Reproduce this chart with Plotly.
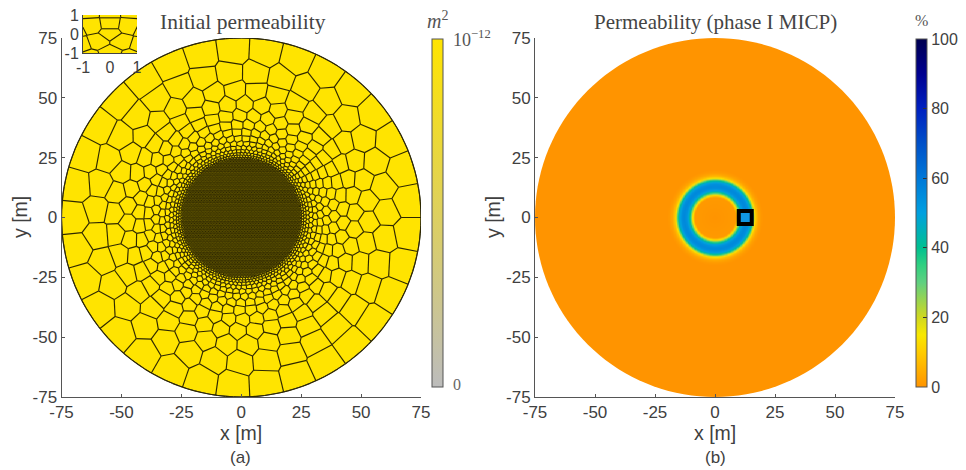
import numpy as np
import plotly.graph_objects as go

# ---------- data ----------
tick_vals = [-75, -50, -25, 0, 25, 50, 75]
tick_text = ["-75", "-50", "-25", "0", "25", "50", "75"]
disk_radius = 75
# Mesh: rings of Voronoi sites outside the fine core (radius, sites on ring)
ring_radii = [25.6, 26.5, 27.6, 29.0, 30.7, 32.8, 35.4, 38.5, 42.3, 47.0, 52.7, 60.0, 69.5]
ring_counts = [140, 118, 98, 84, 72, 64, 57, 51, 46, 42, 38, 35, 33]
ring_phase = [0.0, 0.3, 0.1, 0.5, 0.2, 0.4, 0.7, 0.1, 0.6, 0.3, 0.8, 0.2, 0.5]
core_radius = 25.0
core_spacing = 0.65
# Inset sites (a magnified part of the core)
inset_x = [0, 0, -0.68, 0.67, -0.44, 0.42, 0, -1.1, 1.15, 0, -0.75, 0.75, -0.75, 0.75, -1.3, 1.3]
inset_y = [0.5, 0.05, 0.42, 0.42, -0.38, -0.38, -1.0, -0.55, -0.55, 1.2, 1.25, 1.25, -1.25, -1.25, 0.2, 0.2]
inset_ticks = [-1, 0, 1]
inset_labels = ["-1", "0", "1"]
# Panel (b): radial permeability-change profile (percent)
profile_r = [0, 8.5, 9, 9.5, 10, 10.5, 11, 12, 13, 14, 15, 15.5, 16, 16.5, 17, 18, 19, 20, 30]
profile_v = [0, 1, 8, 16, 28, 38, 47, 54, 56, 54, 47, 38, 25, 14, 8, 3, 1, 0, 0]
well_x = [12.6]
well_y = [0]
cbar_ticks = [0, 20, 40, 60, 80, 100]
cbar_stops = [(0, "#ff9400"), (0.1, "#ffcc00"), (0.15, "#f8e800"), (0.2, "#d0d820"), (0.3, "#60d080"),
              (0.35, "#30d080"), (0.4, "#00c090"), (0.45, "#00b0b8"), (0.5, "#00a0e0"), (0.6, "#0078d8"),
              (0.7, "#0050c8"), (0.8, "#0020c0"), (0.9, "#000090"), (1, "#000050")]
perm_stops = [(0, "#bcbcbc"), (1, "#ffe400")]
YELLOW = "#ffe400"
EDGE = "#2e2800"
ORANGE = "#ff9400"
TXT = "#404040"
AXC = "#555555"
PAGE = 8            # the page's own margin round the figure
W, H = 966 - PAGE, 470 - PAGE


def clip(poly, a, b, c):
    out = []
    n = len(poly)
    for i in range(n):
        p, q = poly[i], poly[(i + 1) % n]
        dp = a * p[0] + b * p[1] - c
        dq = a * q[0] + b * q[1] - c
        if dp <= 0:
            out.append(p)
        if (dp < 0 < dq) or (dq < 0 < dp):
            t = dp / (dp - dq)
            out.append((p[0] + t * (q[0] - p[0]), p[1] + t * (q[1] - p[1])))
    return out


def voronoi_segments(sx, sy, bound):
    sx, sy = np.asarray(sx, float), np.asarray(sy, float)
    seen = set()
    xs, ys = [], []
    for i in range(len(sx)):
        dx, dy = sx - sx[i], sy - sy[i]
        d2 = dx * dx + dy * dy
        order = np.argsort(d2)[1:]
        poly = list(bound)
        for j in order:
            if len(poly) < 3:
                break
            rmax = max((p[0] - sx[i]) ** 2 + (p[1] - sy[i]) ** 2 for p in poly)
            if d2[j] > 4 * rmax:
                break
            a, b = dx[j], dy[j]
            c = (a * (sx[i] + sx[j]) + b * (sy[i] + sy[j])) / 2
            poly = clip(poly, a, b, c)
        for k in range(len(poly)):
            p, q = poly[k], poly[(k + 1) % len(poly)]
            kp = (round(p[0], 3), round(p[1], 3))
            kq = (round(q[0], 3), round(q[1], 3))
            if kp == kq:
                continue
            key = (kp, kq) if kp < kq else (kq, kp)
            if key in seen:
                continue
            seen.add(key)
            xs += [kp[0], kq[0], None]
            ys += [kp[1], kq[1], None]
    return xs, ys


# sites
site_x, site_y = [], []
row = 0
yy = -core_radius
while yy <= core_radius:
    xx = -core_radius + (0.5 * core_spacing if row % 2 else 0)
    while xx <= core_radius:
        if xx * xx + yy * yy <= core_radius ** 2:
            site_x.append(xx)
            site_y.append(yy)
        xx += core_spacing
    yy += core_spacing * 0.866
    row += 1
for r, n, ph in zip(ring_radii, ring_counts, ring_phase):
    for j in range(n):
        t = 2 * np.pi * (j + ph) / n
        site_x.append(r * np.cos(t))
        site_y.append(r * np.sin(t))

ang = np.linspace(0, 2 * np.pi, 145)[:-1]
disk_x = (disk_radius * np.cos(ang)).tolist()
disk_y = (disk_radius * np.sin(ang)).tolist()
mesh_x, mesh_y = voronoi_segments(site_x, site_y, list(zip(disk_x, disk_y)))
box = [(-2, -2), (2, -2), (2, 2), (-2, 2)]
ins_x, ins_y = voronoi_segments(inset_x, inset_y, box)

# panel (b) field
gx = np.arange(-22, 22.01, 0.25)
gr = np.hypot(*np.meshgrid(gx, gx))
gz = np.interp(gr, profile_r, profile_v)


def fx(px):
    return (px - PAGE) / W


def fy(py):
    return 1 - (py - PAGE) / H


X1, X2 = (61.5, 421), (535, 895)
YT, YB = 38, 397
ydom = [fy(YB), fy(YT)]

fig = go.Figure()
# left
fig.add_trace(go.Scatter(x=disk_x + disk_x[:1], y=disk_y + disk_y[:1], fill="toself", fillcolor=YELLOW,
                         mode="lines", line=dict(color="#3a3a3a", width=1), hoverinfo="skip", showlegend=False))
fig.add_trace(go.Scatter(x=mesh_x, y=mesh_y, mode="lines", line=dict(color=EDGE, width=1.15),
                         hoverinfo="skip", showlegend=False))
fig.add_trace(go.Scatter(x=[0, 0], y=[0, 0], mode="markers", hoverinfo="skip", showlegend=False,
                         marker=dict(size=0.1, color=[0, 1], cmin=0, cmax=1, colorscale=perm_stops,
                                     showscale=True,
                                     colorbar=dict(x=fx(432), xanchor="left", y=fy(39), yanchor="top",
                                                   len=348 / H, lenmode="fraction", thickness=11,
                                                   thicknessmode="pixels", xpad=0, ypad=0, outlinecolor="#555555",
                                                   outlinewidth=1, ticks="", tickvals=[], showticklabels=False))))
# inset
fig.add_trace(go.Scatter(x=[-1, 1, 1, -1, -1], y=[-1, -1, 1, 1, -1], fill="toself", fillcolor=YELLOW, mode="none",
                         hoverinfo="skip", showlegend=False, xaxis="x3", yaxis="y3"))
fig.add_trace(go.Scatter(x=ins_x, y=ins_y, mode="lines", line=dict(color=EDGE, width=1.1), hoverinfo="skip",
                         showlegend=False, xaxis="x3", yaxis="y3"))
# right
fig.add_trace(go.Heatmap(x=gx, y=gx, z=gz, zmin=0, zmax=100, zsmooth="best", colorscale=cbar_stops,
                         xaxis="x2", yaxis="y2", hoverinfo="skip",
                         colorbar=dict(x=fx(916), xanchor="left", y=fy(39), yanchor="top", len=348 / H,
                                       lenmode="fraction", thickness=11, thicknessmode="pixels", xpad=0, ypad=0,
                                       outlinecolor="#555555", outlinewidth=1, ticks="inside", ticklen=4,
                                       tickcolor="#333333", tickvals=cbar_ticks, tickfont=dict(
                                           family="Liberation Sans", size=16, color=TXT))))
fig.add_trace(go.Scatter(x=well_x, y=well_y, mode="markers", hoverinfo="skip", showlegend=False, xaxis="x2", yaxis="y2",
                         marker=dict(symbol="square", size=13, color="#1096e4", line=dict(color="#000000", width=4))))

axis = dict(range=[-75, 75], tickvals=tick_vals, ticktext=tick_text, ticks="inside", ticklen=3, tickcolor=AXC,
            showline=True, linecolor=AXC, linewidth=1, showgrid=False, zeroline=False, automargin=False,
            tickfont=dict(family="Liberation Sans", size=17, color=TXT))
inset_axis = dict(range=[-1, 1], tickvals=inset_ticks, ticktext=inset_labels, ticks="", showline=True,
                  linecolor="#444444", linewidth=1, showgrid=False, zeroline=False, automargin=False,
                  ticklabeloverflow="allow",
                  tickfont=dict(family="Liberation Sans", size=16, color=TXT))
disk_path = "M " + " L ".join(f"{x:.3f},{y:.3f}" for x, y in zip(disk_x, disk_y)) + " Z"
fig.update_layout(
    width=W, height=H, margin=dict(l=0, r=0, t=0, b=0, autoexpand=False), paper_bgcolor="white", plot_bgcolor="white",
    showlegend=False, autosize=False,
    xaxis=dict(axis, domain=[fx(X1[0]), fx(X1[1])], anchor="y"),
    yaxis=dict(axis, domain=ydom, anchor="x"),
    xaxis2=dict(axis, domain=[fx(X2[0]), fx(X2[1])], anchor="y2"),
    yaxis2=dict(axis, domain=ydom, anchor="x2"),
    xaxis3=dict(inset_axis, domain=[fx(83), fx(137)], anchor="y3"),
    yaxis3=dict(inset_axis, domain=[fy(53), fy(15)], anchor="x3"),
    shapes=[dict(type="path", path=disk_path, xref="x2", yref="y2", fillcolor=ORANGE,
                 line=dict(width=0), layer="below")],
)


def note(px, py, text, size, family="Liberation Sans", color=TXT, rot=0, xanchor="center"):
    fig.add_annotation(x=fx(px), y=fy(py), xref="paper", yref="paper", text=text, showarrow=False,
                       font=dict(family=family, size=size, color=color), textangle=rot, xanchor=xanchor,
                       yanchor="middle")


SERIF = "Liberation Serif"
note(243, 22, "Initial permeability", 21.5, SERIF, "#444444")
note(715, 22, "Permeability (phase I MICP)", 21, SERIF, "#444444")
note(241, 433, "x [m]", 19.5)
note(715, 433, "x [m]", 19.5)
note(240, 457, "(a)", 17)
note(715, 457, "(b)", 17)
note(20, 217, "y [m]", 19.5, rot=-90)
note(493, 217, "y [m]", 19.5, rot=-90)
note(437, 20, "<i>m</i><sup>2</sup>", 20, SERIF, "#555555")
note(921, 21, "%", 16, SERIF, "#555555")
note(451, 38, "10<sup>−12</sup>", 18, SERIF, "#555555", xanchor="left")
note(451, 384, "0", 16, SERIF, "#666666", xanchor="left")

fig.write_html("out.html")
